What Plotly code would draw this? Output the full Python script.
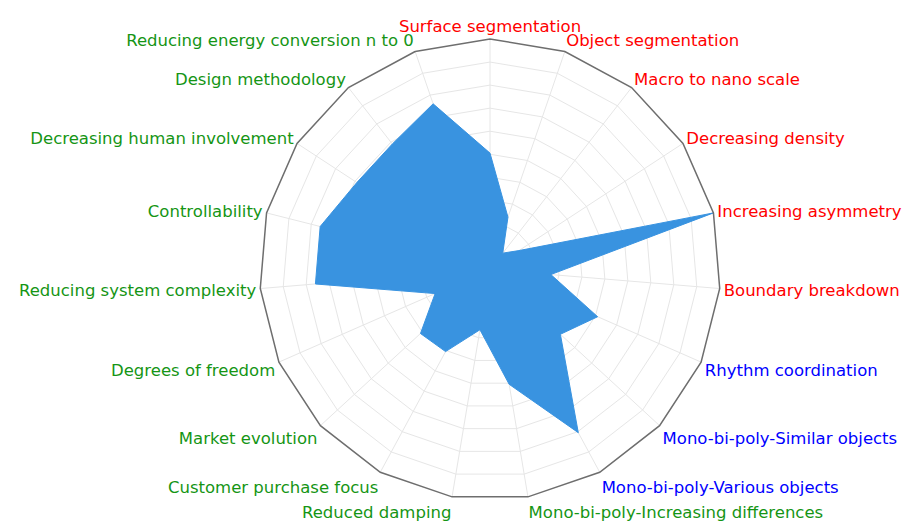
import plotly.graph_objects as go

categories = [
    "Surface segmentation", "Object segmentation", "Macro to nano scale",
    "Decreasing density", "Increasing asymmetry", "Boundary breakdown",
    "Rhythm coordination", "Mono-bi-poly-Similar objects",
    "Mono-bi-poly-Various objects", "Mono-bi-poly-Increasing differences",
    "Reduced damping", "Customer purchase focus", "Market evolution",
    "Degrees of freedom", "Reducing system complexity", "Controllability",
    "Decreasing human involvement", "Design methodology",
    "Reducing energy conversion n to 0",
]
values = [5.05, 2.4, 0.9, 1.5, 10.0, 2.65, 5.1, 4.15, 8.05, 5.05,
          2.65, 4.05, 4.1, 2.6, 7.6, 7.6, 6.9, 6.9, 7.6]
label_colors = ["#ff0000"] * 6 + ["#0000ff"] * 3 + ["#159515"] * 10

ticktext = [f'<span style="color:{c}">{t}</span>' for t, c in zip(categories, label_colors)]

fig = go.Figure()
fig.add_trace(go.Scatterpolar(
    r=values + values[:1],
    theta=categories + categories[:1],
    mode="lines",
    fill="toself",
    fillcolor="#3993e0",
    line=dict(color="#3993e0", width=1),
    hoverinfo="skip",
    showlegend=False,
))

fig.update_layout(
    width=914, height=521,
    margin=dict(l=150, r=100, t=31, b=29),
    paper_bgcolor="white",
    plot_bgcolor="white",
    font=dict(family="DejaVu Sans, sans-serif", size=16.5),
    polar=dict(
        bgcolor="white",
        gridshape="linear",
        radialaxis=dict(
            range=[0, 10], dtick=1, showticklabels=False, ticks="",
            showline=False, gridcolor="#e6e6e6", gridwidth=1,
        ),
        angularaxis=dict(
            type="category",
            categoryarray=categories,
            tickmode="array",
            tickvals=categories,
            ticktext=ticktext,
            rotation=90, direction="clockwise",
            ticks="",
            showline=True, linecolor="#6e6e6e", linewidth=1.5,
            gridcolor="#e6e6e6", gridwidth=1,
            tickfont=dict(size=16.5),
        ),
    ),
)

fig.write_html("out.html")
